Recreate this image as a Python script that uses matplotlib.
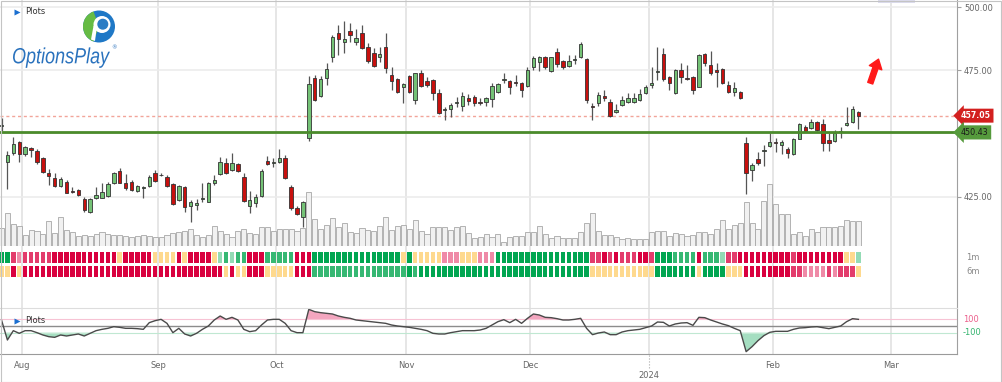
import numpy as np
import pandas as pd
import matplotlib
matplotlib.use('Agg')
import matplotlib.pyplot as plt
from matplotlib import transforms
from matplotlib.patches import Circle, Wedge, Polygon, PathPatch, Rectangle
from matplotlib.textpath import TextPath
from matplotlib.font_manager import FontProperties

# daily candles, 2023-07-26 .. 2024-02-22
opens = [453.0, 438.8, 442.2, 446.8, 441.9, 444.1, 443.2, 440.2, 434.3, 432.3,
         429.2, 430.9, 427.3, 427.6, 424.1, 419.1, 424.5, 424.6, 425.3, 430.5,
         435.2, 430.5, 430.8, 427.4, 428.6, 429.2, 434.2, 433.7, 432.9, 429.9,
         423.7, 429.0, 421.3, 421.6, 424.2, 423.0, 430.6, 433.8, 438.2, 435.6,
         437.8, 432.7, 421.3, 422.4, 425.3, 439.3, 438.4, 438.6, 440.2, 429.0,
         420.5, 417.1, 448.3, 471.8, 465.0, 471.8, 480.4, 489.9, 486.0, 490.7,
         486.3, 489.9, 484.1, 482.0, 480.4, 484.3, 473.0, 471.5, 468.3, 472.7,
         463.3, 474.1, 470.8, 471.2, 465.9, 459.2, 459.6, 461.9, 461.0, 463.9,
         464.3, 462.3, 462.5, 463.5, 466.5, 471.1, 470.8, 470.5, 470.1, 468.8,
         476.2, 478.2, 480.4, 474.9, 482.1, 478.7, 476.8, 479.2, 480.4, 479.3,
         460.7, 462.2, 464.8, 462.6, 458.5, 461.4, 462.6, 462.6, 463.3, 465.9,
         469.0, 474.4, 481.3, 472.3, 465.9, 475.1, 471.9, 472.5, 468.5, 481.4,
         477.1, 475.1, 475.4, 469.2, 466.3, 466.5, 446.4, 435.6, 439.8, 443.0,
         445.1, 446.8, 445.6, 443.7, 441.8, 447.8, 452.4, 452.0, 454.7, 453.6,
         447.4, 447.0, 450.6, 453.4, 454.7, 458.4]
highs = [456.0, 443.2, 448.5, 447.2, 445.2, 444.5, 443.9, 440.6, 435.8, 434.5,
         432.9, 431.6, 429.0, 428.0, 424.8, 424.4, 428.7, 430.3, 430.9, 434.9,
         436.2, 434.0, 431.6, 429.8, 429.4, 433.7, 435.6, 434.5, 433.6, 430.3,
         429.6, 429.2, 423.7, 424.0, 430.3, 430.9, 433.6, 440.8, 440.2, 442.2,
         438.5, 434.5, 427.3, 426.1, 435.8, 441.1, 440.2, 443.7, 441.5, 429.6,
         421.3, 423.3, 472.9, 473.1, 472.7, 477.8, 489.0, 492.9, 494.6, 493.8,
         491.2, 492.9, 485.9, 483.7, 484.1, 489.9, 476.4, 471.8, 470.1, 473.1,
         474.1, 475.1, 472.5, 471.4, 467.5, 460.6, 461.9, 464.3, 466.5, 465.6,
         465.2, 463.9, 464.3, 470.1, 470.1, 473.8, 471.2, 473.1, 470.5, 476.4,
         480.6, 480.6, 480.6, 480.4, 483.7, 479.1, 481.0, 481.0, 486.3, 479.7,
         462.2, 466.5, 467.0, 463.5, 461.7, 464.8, 465.9, 465.9, 467.5, 469.2,
         476.2, 484.1, 483.7, 472.7, 475.4, 477.8, 477.1, 472.7, 481.3, 482.0,
         482.8, 477.8, 475.8, 470.8, 470.5, 466.9, 448.7, 438.5, 442.8, 445.4,
         450.1, 448.1, 447.4, 444.8, 448.3, 454.3, 453.4, 455.6, 455.1, 455.6,
         450.1, 451.4, 452.7, 460.6, 461.0, 459.0]
lows = [451.0, 428.0, 441.5, 438.8, 441.2, 440.8, 437.9, 434.3, 429.6, 429.0,
        428.9, 426.3, 426.3, 425.4, 419.1, 418.4, 424.2, 424.4, 425.0, 430.0,
        430.3, 427.6, 427.3, 426.7, 424.4, 428.9, 430.9, 433.2, 429.0, 421.7,
        423.4, 419.1, 415.1, 419.7, 423.0, 422.8, 429.6, 433.6, 433.8, 435.2,
        434.9, 422.8, 418.7, 421.1, 425.0, 437.4, 436.9, 438.2, 431.9, 419.7,
        417.8, 413.1, 447.0, 463.0, 464.6, 469.2, 478.4, 481.0, 482.0, 486.3,
        485.0, 483.3, 478.0, 476.2, 478.4, 473.8, 467.2, 465.9, 462.2, 465.9,
        461.5, 468.3, 468.5, 463.3, 457.7, 455.3, 456.4, 460.4, 459.0, 461.3,
        461.0, 461.3, 460.9, 460.6, 465.9, 470.1, 465.6, 468.8, 464.3, 468.3,
        475.1, 474.9, 475.4, 474.5, 476.2, 475.4, 476.4, 477.5, 479.7, 462.2,
        455.3, 460.9, 462.9, 456.7, 458.2, 461.0, 462.2, 462.2, 463.0, 465.5,
        467.9, 471.2, 470.8, 467.2, 465.5, 470.1, 471.2, 465.5, 468.3, 476.7,
        473.1, 468.5, 469.6, 465.9, 465.0, 463.6, 425.9, 431.3, 437.5, 437.1,
        444.8, 442.8, 441.8, 440.2, 441.5, 447.7, 450.5, 451.6, 451.1, 443.1,
        443.1, 446.8, 448.1, 452.9, 454.0, 451.9]
closes = [453.5, 441.5, 445.8, 441.8, 444.5, 443.5, 438.8, 434.7, 433.2, 429.2,
          432.0, 426.6, 426.8, 425.7, 419.7, 424.0, 425.6, 426.7, 430.0, 434.3,
          430.5, 428.3, 427.6, 429.2, 428.7, 432.9, 431.3, 433.4, 429.2, 422.0,
          429.2, 420.8, 423.0, 422.4, 424.5, 430.6, 431.6, 438.6, 434.2, 438.2,
          435.3, 423.2, 423.7, 424.8, 435.3, 437.8, 438.6, 440.2, 432.3, 420.4,
          418.2, 423.0, 469.6, 463.3, 471.4, 475.4, 488.3, 487.2, 487.2, 489.0,
          487.9, 483.7, 478.7, 476.7, 481.3, 475.8, 470.9, 466.5, 469.6, 466.3,
          473.8, 468.8, 469.0, 465.9, 458.2, 459.4, 461.3, 462.6, 464.8, 463.0,
          461.9, 462.1, 463.9, 468.8, 469.6, 471.3, 468.3, 469.8, 467.2, 475.1,
          479.7, 480.4, 476.2, 480.1, 477.5, 476.2, 478.8, 479.4, 485.3, 463.3,
          460.5, 465.2, 463.9, 456.9, 459.3, 463.1, 464.2, 463.9, 465.5, 468.3,
          469.8, 474.6, 471.6, 469.8, 475.1, 472.2, 471.7, 467.2, 481.0, 477.8,
          473.8, 474.5, 470.1, 466.5, 467.9, 463.9, 434.5, 437.5, 438.2, 443.2,
          446.8, 446.1, 446.5, 442.2, 447.8, 453.8, 451.1, 454.4, 451.4, 446.1,
          446.1, 450.3, 450.8, 454.0, 459.7, 457.05]
# volume, millions
volumes = [1.8, 3.3, 2.2, 2.0, 1.1, 1.6, 1.5, 1.2, 2.5, 1.3,
           2.9, 1.6, 1.4, 1.0, 1.1, 1.0, 1.2, 1.4, 1.2, 1.1,
           1.1, 1.0, 0.9, 1.0, 1.1, 1.0, 0.9, 0.9, 1.1, 1.3,
           1.4, 1.5, 1.7, 1.1, 0.9, 1.1, 2.0, 1.5, 1.2, 0.9,
           1.5, 1.7, 1.3, 1.2, 1.9, 1.9, 1.5, 1.7, 1.7, 1.7,
           1.5, 1.8, 5.4, 2.7, 1.7, 2.1, 2.8, 1.9, 2.3, 1.4,
           1.3, 1.8, 1.6, 1.5, 2.0, 2.9, 1.6, 2.0, 2.1, 1.7,
           2.6, 1.5, 1.2, 1.9, 1.9, 1.9, 1.6, 1.9, 2.0, 1.3,
           0.8, 0.9, 1.2, 0.9, 1.2, 0.4, 0.9, 1.0, 1.0, 1.4,
           1.4, 2.0, 1.2, 0.8, 1.0, 0.8, 0.8, 0.8, 1.4, 2.3,
           3.3, 1.5, 1.1, 1.1, 0.9, 0.7, 0.8, 0.7, 0.7, 0.7,
           1.4, 1.5, 1.5, 1.0, 1.3, 1.2, 1.0, 1.1, 1.4, 1.4,
           1.2, 1.7, 2.6, 1.7, 2.1, 2.3, 4.4, 2.3, 1.7, 4.5,
           6.2, 4.2, 3.2, 3.2, 1.2, 1.4, 1.0, 1.7, 1.4, 1.9,
           1.9, 1.9, 2.0, 2.6, 2.5, 2.5]
# oscillator (CCI-like)
osc = [90, -210, -70, -110, -70, -70, -100, -135, -160, -170,
       -135, -150, -135, -120, -150, -110, -70, -50, -35, -10,
       -20, -35, -35, -40, -50, 50, 80, 100, 40, -100,
       -35, -120, -150, -110, -50, 0, 90, 150, 100, 130,
       90, -50, -85, -70, 15, 90, 100, 100, 40, -70,
       -100, -100, 250, 215, 200, 190, 180, 150, 130, 115,
       90, 80, 70, 60, 50, 40, 15, 0, -10, -20,
       -35, -50, -70, -110, -120, -120, -100, -85, -70, -70,
       -70, -60, -35, 15, 65, 95, 50, 100, 40, 115,
       180, 165, 130, 125, 110, 90, 90, 100, 115, -35,
       -130, -105, -90, -130, -130, -90, -70, -60, -50, -25,
       0, 60, 55, 0, 30, 45, 50, 10, 130, 125,
       90, 60, 30, 5, -35, -70, -385, -310, -220, -145,
       -95, -80, -80, -80, -50, -30, -25, -15, -10, -25,
       -40, -20, 0, 65, 110, 100]
# trend strips: g/m/l = strong/medium/light bullish, y = neutral, p/r/c = light/medium/strong bearish
strip_1m = ("ggrprrrrrccccccccccc" "ycccccyyyycycccc" "ylmlmmcccmmmmmccc"
            "gggggggggggggggygyyyyypppyyyppp" "gggggggggggggggg" "rrcrcrrrccr"
            "gggmmmmcmmml" "rrcccccccccrcccccccc" "yyl")
strip_6m = ("yycy" "cccccccccccccccccccccccccccccccccc" "ycyycccyyyyyccc"
            "mmmmmmmmmmmmmmmm" "gm" "ggggggggggggggggggggggggggggg" "yyyyyyyyyyy"
            "gggggggyggggyyy" "cccccccc" "rrpppprp" "rrry")
strip_labels = ['1m', '6m']

last_price = 457.05
support = 450.43
price_ticks = [425, 475, 500]

holidays = ['2023-09-04', '2023-11-23', '2023-12-25', '2024-01-01', '2024-01-15', '2024-02-19']
days = pd.bdate_range('2023-07-26', '2024-03-28')
days = days[~days.isin(pd.to_datetime(holidays))]

W, H = 1002, 382


def px_rect(x0, y0, x1, y1):
    return [x0 / W, 1 - y1 / H, (x1 - x0) / W, (y1 - y0) / H]


n = len(closes)
idx = np.arange(n)
x_lo, x_hi = -0.254, 161.68
bounds = [k - 0.5 for k in range(1, len(days)) if days[k].month != days[k - 1].month]
blabels = ['' if days[int(b + 0.5)].month == 1 else days[int(b + 0.5)].strftime('%b') for b in bounds]
jan_b = [b for b in bounds if days[int(b + 0.5)].month == 1][0]

fig = plt.figure(figsize=(W / 100, H / 100), dpi=100)

# background: month grid + right axis line
ax_bg = fig.add_axes(px_rect(0, 0, 957, 354))
ax_bg.set_xlim(x_lo, x_hi)
ax_bg.set_ylim(0, 1)
for b in bounds:
    ax_bg.axvline(b, color='#e6e6e6', lw=1.4)
for s in ['top', 'left', 'bottom']:
    ax_bg.spines[s].set_visible(False)
ax_bg.spines['right'].set_color('#a0a0a0')
ax_bg.spines['right'].set_linewidth(0.8)
ax_bg.set_xticks([])
ax_bg.set_yticks([])

# volume
ax_vol = fig.add_axes(px_rect(0, 2, 957, 246))
ax_vol.patch.set_visible(False)
ax_vol.set_xlim(x_lo, x_hi)
ax_vol.set_ylim(0, 24.4)
ax_vol.axis('off')

# price
ax = fig.add_axes(px_rect(0, 2, 957, 246))
ax.patch.set_visible(False)
ax.set_xlim(x_lo, x_hi)
ax.set_ylim(405.5, 502.0)

tr_grid = transforms.blended_transform_factory(ax_vol.transAxes, ax.transData)
for lvl in [425, 450, 475, 500]:
    ax_vol.plot([0, 1], [lvl, lvl], transform=tr_grid, color='#ececec', lw=1.2, zorder=0)
ax_vol.bar(idx, volumes, width=0.86, color='#f1f1f1', edgecolor='#a8a8a8', linewidth=0.6, zorder=1)

o = np.array(opens)
c = np.array(closes)
up = c >= o
body_lo = np.minimum(o, c)
body_h = np.maximum(np.abs(c - o), 0.35)
ax.vlines(idx, lows, highs, color='#555555', lw=0.9, zorder=2)
ax.bar(idx, body_h, bottom=body_lo, width=0.58,
       color=np.where(up, '#74c276', '#c8100e'), edgecolor='#333333', linewidth=0.6, zorder=3)

ax.axhline(last_price, color='#f2a59a', lw=1.0, ls=(0, (2.2, 2.0)), zorder=1)
ax.axhline(support, color='#4b8b2b', lw=2.0, zorder=4)

tr_tag = transforms.blended_transform_factory(ax.transAxes, ax.transData)
ax.text(1.0 + 4 / 957, last_price, f'{last_price:.2f}', transform=tr_tag, ha='left', va='center',
        fontsize=5.6, color='white', fontweight='bold', zorder=6,
        bbox=dict(boxstyle='larrow,pad=0.32', fc='#d3201f', ec='none'))
ax.text(1.0 + 4 / 957, support, f'{support:.2f}', transform=tr_tag, ha='left', va='center',
        fontsize=5.8, color='#1a1a1a', zorder=6,
        bbox=dict(boxstyle='larrow,pad=0.32', fc='#559a3c', ec='none'))

ax.annotate('', xy=(148.4, 479.4), xytext=(147.0, 469.9),
            arrowprops=dict(arrowstyle='simple,head_width=0.95,head_length=0.65,tail_width=0.38',
                            color='#ff1a1a', mutation_scale=10, shrinkA=0, shrinkB=0))

ax.yaxis.tick_right()
ax.set_yticks(price_ticks)
ax.set_yticklabels([f'{t:.2f}' for t in price_ticks])
ax.tick_params(axis='y', length=3, width=0.8, color='#a0a0a0', labelsize=6, labelcolor='#666666', pad=2)
ax.set_xticks([])
for s in ax.spines.values():
    s.set_visible(False)

# trend strips
palette = {'g': '#00a651', 'm': '#36b873', 'l': '#93dbb5', 'y': '#fed98e',
           'p': '#ef8aa7', 'r': '#e33c6c', 'c': '#d9003f'}
ax_s = fig.add_axes(px_rect(0, 250.5, 957, 278.5))
ax_s.patch.set_visible(False)
ax_s.set_xlim(x_lo, x_hi)
ax_s.set_ylim(0, 2)
ax_s.axis('off')
tr_s = transforms.blended_transform_factory(ax_s.transAxes, ax_s.transData)
for row, codes, lab in [(1, strip_1m, strip_labels[0]), (0, strip_6m, strip_labels[1])]:
    cols = [palette[k] for k in codes[:n]]
    ax_s.bar(idx[:len(cols)], 0.84, bottom=row + 0.08, width=0.76, color=cols, linewidth=0)
    ax_s.text(1.024, row + 0.5, lab, transform=tr_s, ha='right', va='center', fontsize=6, color='#8a8a8a')

# oscillator
ax_o = fig.add_axes(px_rect(0, 308, 957, 354))
ax_o.patch.set_visible(False)
ax_o.set_xlim(x_lo, x_hi)
ax_o.set_ylim(-420, 270)
ov = np.array(osc, dtype=float)
ax_o.axhline(100, color='#f7c3d4', lw=0.8)
ax_o.axhline(-100, color='#c0e8d2', lw=0.8)
ax_o.axhline(0, color='#8c8c8c', lw=1.0)
ax_o.fill_between(idx, ov, 100, where=ov > 100, interpolate=True, color='#f3a6bf', lw=0)
ax_o.fill_between(idx, ov, -100, where=ov < -100, interpolate=True, color='#a5dec1', lw=0)
ax_o.plot(idx, ov, color='#4a4a4a', lw=1.0)
ax_o.spines['left'].set_visible(False)
ax_o.spines['right'].set_visible(False)
ax_o.spines['top'].set_color('#dddddd')
ax_o.spines['top'].set_linewidth(0.8)
ax_o.spines['bottom'].set_color('#9a9a9a')
ax_o.spines['bottom'].set_linewidth(0.8)
ax_o.set_yticks([])
ax_o.set_xticks(bounds)
ax_o.set_xticklabels(blabels)
ax_o.tick_params(axis='x', length=0, pad=5, labelsize=6, labelcolor='#666666')
tr_o = transforms.blended_transform_factory(ax_o.transAxes, ax_o.transData)
ax_o.text(1.006, 100, '100', transform=tr_o, ha='left', va='center', fontsize=6, color='#ec5f8c')
ax_o.text(1.006, -100, '-100', transform=tr_o, ha='left', va='center', fontsize=6, color='#33b46e')
tr_yr = transforms.blended_transform_factory(ax_o.transData, ax_o.transAxes)
ax_o.text(jan_b, -0.47, '2024', transform=tr_yr, ha='center', va='center', fontsize=6, color='#666666')
ax_o.plot([jan_b, jan_b], [-0.02, -0.3], transform=tr_yr, ls=':', color='#aaaaaa', lw=0.8, clip_on=False)

# overlay: logo, labels, frame
ov_ax = fig.add_axes([0, 0, 1, 1])
ov_ax.set_xlim(0, W)
ov_ax.set_ylim(H, 0)
ov_ax.axis('off')
ov_ax.add_patch(Circle((99, 26.5), 16, fc='#1f78c6', ec='none'))
ov_ax.add_patch(Wedge((99, 26.5), 16, 110, 250, fc='#66bb44', ec='none'))
ov_ax.add_patch(Circle((102, 24.5), 8.5, fc='white', ec='none'))
ov_ax.add_patch(Circle((102.8, 24.2), 5.5, fc='#2a7cc4', ec='none'))
ov_ax.add_patch(Polygon([(93.5, 26), (97, 26), (95, 41), (91, 39.5)], fc='white', ec='none'))

fp = FontProperties(family='Liberation Sans', style='italic')
tp = TextPath((0, 0), 'OptionsPlay', size=22, prop=fp)
bb = tp.get_extents()
sx = 97 / bb.width
tt = transforms.Affine2D().scale(sx, -1).translate(13 - bb.x0 * sx, 63.3)
ov_ax.add_patch(PathPatch(tt.transform_path(tp), fc='#2a72bd', ec='none'))
ov_ax.text(111.5, 47.5, '®', fontsize=4, color='#2a72bd', ha='left', va='center')

for yy in [11.8, 320.5]:
    ov_ax.plot([17], [yy], marker='>', ms=4, color='#1a6fd0', mec='none')
    ov_ax.text(25, yy, 'Plots', fontsize=6, color='#333333', ha='left', va='center')

ov_ax.add_patch(Rectangle((878, 0), 37, 2.5, fc='#dcdcee', ec='none'))
ov_ax.add_patch(Rectangle((0.5, 0.5), W - 1, H - 1, fill=False, ec='#c4c4c4', lw=0.8))

fig.savefig('out.png', dpi=100)
